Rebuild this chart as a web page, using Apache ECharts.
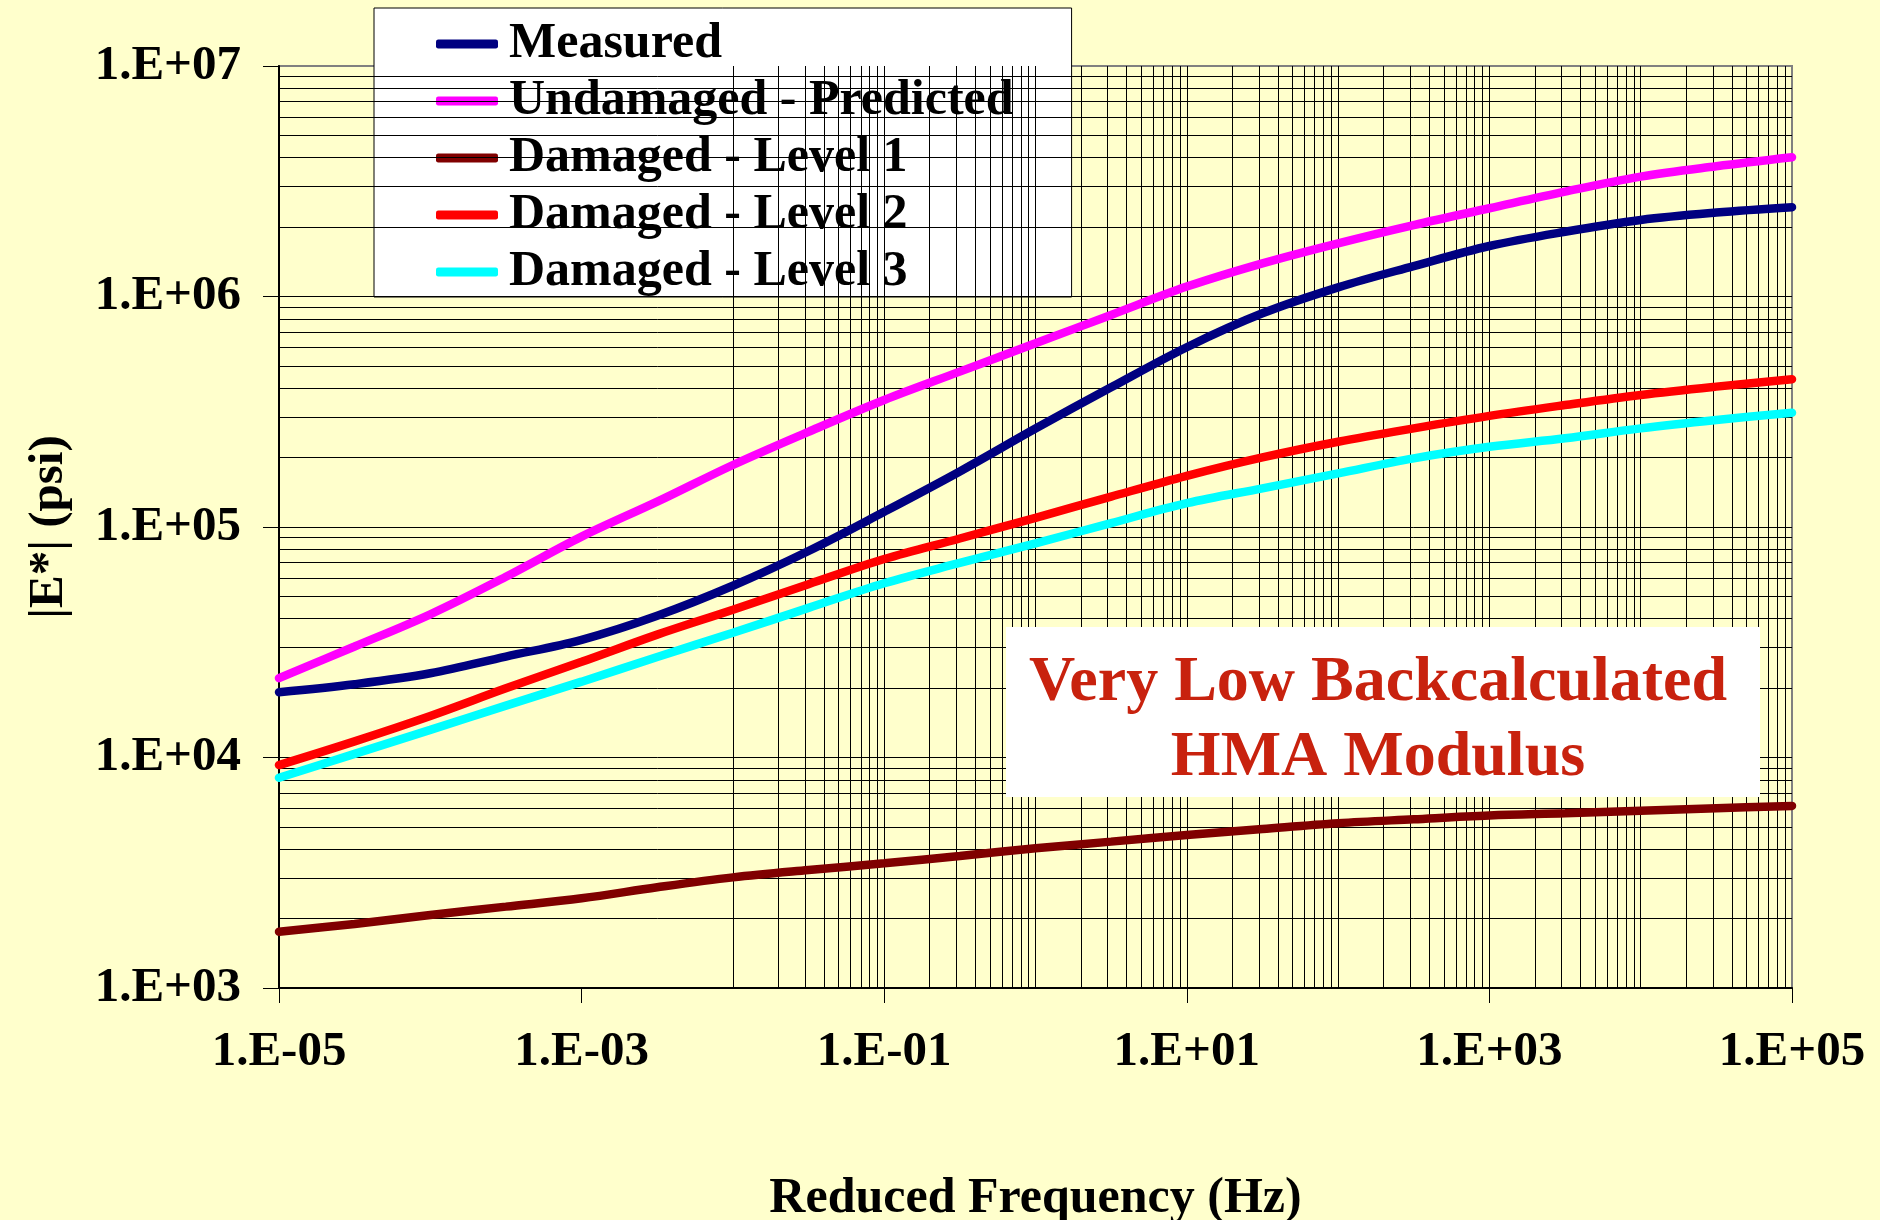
<!DOCTYPE html>
<html>
<head>
<meta charset="utf-8">
<script src="https://cdn.jsdelivr.net/npm/echarts@6/dist/echarts.min.js"></script>
<style>
  html, body { margin: 0; padding: 0; background: #FFFFCC; }
  #chart { width: 1880px; height: 1220px; }
</style>
</head>
<body>
<div id="chart"></div>
<script>
// Reduced frequency (Hz), half-decade steps
const freqHz = [1e-5, 3.16e-5, 1e-4, 3.16e-4, 1e-3, 3.16e-3, 1e-2, 3.16e-2, 0.1, 0.316,
                1, 3.16, 10, 31.6, 100, 316, 1000, 3162, 1e4, 3.16e4, 1e5];

// |E*| (psi) for each curve
const measured = [19200, 20800, 23200, 27400, 32400, 41200, 55600, 78700, 116400, 174200,
                  267300, 403600, 602600, 845300, 1096000, 1355000, 1656000, 1910000, 2148000, 2312000, 2438000];
const undamagedPredicted = [22100, 30300, 41800, 60800, 90800, 128800, 185800, 258800, 355600, 472100,
                  626600, 831800, 1104000, 1393000, 1702000, 2042000, 2415000, 2851000, 3311000, 3673000, 4018000];
const damagedLevel1 = [1754, 1897, 2075, 2254, 2449, 2735, 3020, 3251, 3475, 3741,
                  4036, 4315, 4613, 4898, 5188, 5395, 5598, 5728, 5875, 6026, 6166];
const damagedLevel2 = [9268, 11750, 15140, 19950, 26000, 34120, 43750, 56490, 72610, 89130,
                  109600, 135500, 166700, 200400, 234400, 267900, 303400, 338100, 374100, 406400, 437500];
const damagedLevel3 = [8166, 10370, 13180, 16790, 21330, 27290, 34750, 44570, 57020, 69820,
                  84920, 104000, 126800, 147200, 171000, 198600, 222800, 242700, 267900, 291100, 313300];

const seriesNames = ['Measured', 'Undamaged - Predicted', 'Damaged - Level 1', 'Damaged - Level 2', 'Damaged - Level 3'];
const seriesColors = ['#000080', '#FF00FF', '#800000', '#FF0000', '#00FFFF'];
const seriesValues = [measured, undamagedPredicted, damagedLevel1, damagedLevel2, damagedLevel3];

// Axis ticks and their labels
const xTickValues = [1e-5, 1e-3, 1e-1, 1e1, 1e3, 1e5];
const xTickLabels = ['1.E-05', '1.E-03', '1.E-01', '1.E+01', '1.E+03', '1.E+05'];
const yTickValues = [1e3, 1e4, 1e5, 1e6, 1e7];
const yTickLabels = ['1.E+03', '1.E+04', '1.E+05', '1.E+06', '1.E+07'];

const FONT = '"Liberation Serif", "Times New Roman", serif';

function lookupLabel(values, labels) {
  return function (v) {
    for (let i = 0; i < values.length; i++) {
      if (Math.abs(Math.log10(v) - Math.log10(values[i])) < 1e-6) return labels[i];
    }
    return '';
  };
}

// Log-paper grid: every 1..9 multiple inside each decade
function logGridValues(expFrom, expTo) {
  const out = [];
  for (let e = expFrom; e < expTo; e++) {
    for (let m = 1; m <= 9; m++) {
      if (e === expFrom && m === 1) continue;
      out.push(Number(m + 'e' + e));
    }
  }
  return out;
}
const xGrid = logGridValues(-5, 5);
const yGrid = logGridValues(3, 7);

const chart = echarts.init(document.getElementById('chart'), null, { renderer: 'canvas' });

const lineSeries = seriesNames.map((name, i) => ({
  name: name,
  type: 'line',
  data: freqHz.map((f, j) => [f, seriesValues[i][j]]),
  smooth: 0.35,
  showSymbol: false,
  symbol: 'none',
  color: seriesColors[i],
  lineStyle: { width: 8.5, color: seriesColors[i], cap: 'round' },
  z: 5
}));

const gridSeries = {
  name: 'grid',
  type: 'line',
  data: [],
  silent: true,
  z: 1,
  markLine: {
    silent: true,
    symbol: ['none', 'none'],
    label: { show: false },
    animation: false,
    lineStyle: { color: '#000000', width: 1, type: 'solid' },
    emphasis: { disabled: true },
    data: xGrid.map(v => ({ xAxis: v })).concat(yGrid.map(v => ({ yAxis: v })))
  }
};

chart.setOption({
  backgroundColor: '#FFFFCC',
  animation: false,
  textStyle: { fontFamily: FONT },
  grid: {
    left: 279, right: 88, top: 66, bottom: 232,
    outerBoundsMode: 'none',
    containLabel: false,
    show: true,
    backgroundColor: '#FFFFCC',
    borderColor: '#808080',
    borderWidth: 2
  },
  legend: {
    data: seriesNames,
    orient: 'vertical',
    left: 374,
    top: 8,
    padding: [11, 58, 0, 62],
    itemGap: 7,
    itemWidth: 62,
    itemHeight: 9,
    icon: 'roundRect',
    selectedMode: false,
    backgroundColor: '#FFFFFF',
    borderColor: '#000000',
    borderWidth: 1,
    textStyle: {
      fontFamily: FONT, fontWeight: 'bold', fontSize: 50, color: '#000',
      lineHeight: 50, padding: [0, 0, 0, 6]
    }
  },
  xAxis: {
    type: 'log',
    logBase: 10,
    min: 1e-5,
    max: 1e5,
    name: 'Reduced Frequency (Hz)',
    nameLocation: 'middle',
    nameGap: 186,
    nameTextStyle: { fontFamily: FONT, fontWeight: 'bold', fontSize: 50, color: '#000' },
    axisLine: { show: true, onZero: false, lineStyle: { color: '#000', width: 2 } },
    axisTick: { show: true, length: 15, customValues: xTickValues, lineStyle: { color: '#000', width: 1 } },
    axisLabel: {
      customValues: xTickValues,
      formatter: lookupLabel(xTickValues, xTickLabels),
      margin: 40,
      fontFamily: FONT, fontWeight: 'bold', fontSize: 49, color: '#000'
    },
    splitLine: { show: false },
    minorTick: { show: false },
    minorSplitLine: { show: false }
  },
  yAxis: {
    type: 'log',
    logBase: 10,
    min: 1e3,
    max: 1e7,
    name: '|E*| (psi)',
    nameLocation: 'middle',
    nameRotate: 90,
    nameGap: 205,
    nameTextStyle: { fontFamily: FONT, fontWeight: 'bold', fontSize: 49, color: '#000' },
    axisLine: { show: true, onZero: false, lineStyle: { color: '#000', width: 2 } },
    axisTick: { show: true, length: 16, customValues: yTickValues, lineStyle: { color: '#000', width: 1 } },
    axisLabel: {
      customValues: yTickValues,
      formatter: lookupLabel(yTickValues, yTickLabels),
      margin: 38,
      fontFamily: FONT, fontWeight: 'bold', fontSize: 49, color: '#000'
    },
    splitLine: { show: false },
    minorTick: { show: false },
    minorSplitLine: { show: false }
  },
  graphic: [
    {
      type: 'rect',
      z: 100,
      shape: { x: 1006, y: 627, width: 754, height: 170 },
      style: { fill: '#FFFFFF' }
    },
    {
      type: 'text',
      z: 101,
      x: 1378,
      y: 646,
      style: {
        text: 'Very Low Backcalculated\nHMA Modulus',
        textAlign: 'center',
        textVerticalAlign: 'top',
        fontFamily: FONT,
        fontWeight: 'bold',
        fontSize: 64,
        lineHeight: 75,
        fill: '#C8220E'
      }
    }
  ],
  series: [gridSeries].concat(lineSeries)
});
</script>
</body>
</html>
